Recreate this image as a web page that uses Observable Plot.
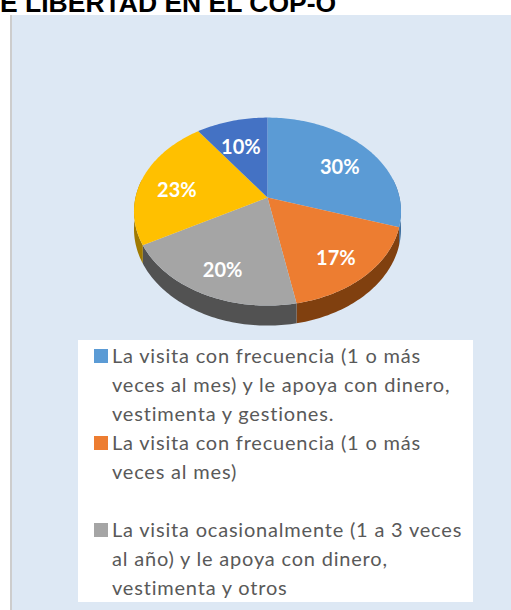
<!DOCTYPE html>
<html><head><meta charset="utf-8">
<script src="https://cdn.jsdelivr.net/npm/d3@7"></script>
<script src="https://cdn.jsdelivr.net/npm/@observablehq/plot@0.6"></script>
<style>
html,body{margin:0;padding:0;width:511px;height:610px;overflow:hidden;background:#fff;}
#panel{position:absolute;left:10px;top:15px;width:530px;height:620px;background:#DDE8F4;border-left:2px solid #CDCDCD;}
#chart{position:absolute;left:0;top:0;}
#title{position:absolute;left:0;top:-10px;font:bold 26.5px "Liberation Sans",Arial,sans-serif;line-height:26px;color:#000;white-space:nowrap;z-index:3;}
#legend{position:absolute;left:78px;top:340px;width:395px;height:262px;background:#fff;font:20px Lato,sans-serif;letter-spacing:0.8px;color:#595959;line-height:29px;box-sizing:border-box;padding-top:1px;z-index:2;}
.item{position:relative;padding-left:34px;white-space:nowrap;}
.sw{position:absolute;left:16px;top:8px;width:14px;height:14px;}
</style>
</head><body>
<div id="panel"></div>
<div id="chart"></div>
<div id="title"></div>
<div id="legend"></div>
<script>
const titleText = "E LIBERTAD EN EL COP-O";
const categories = [
  "La visita con frecuencia (1 o más veces al mes) y le apoya con dinero, vestimenta y gestiones.",
  "La visita con frecuencia (1 o más veces al mes)",
  "La visita ocasionalmente (1 a 3 veces al año) y le apoya con dinero, vestimenta y otros",
  "Otro (amarillo)",
  "Otro (azul oscuro)"
];
const values = [30, 17, 20, 23, 10];
const valueLabels = ["30%", "17%", "20%", "23%", "10%"];
const legendLines = [
  ["La visita con frecuencia (1 o más", "veces al mes) y le apoya con dinero,", "vestimenta y gestiones."],
  ["La visita con frecuencia (1 o más", "veces al mes)", "\u00a0"],
  ["La visita ocasionalmente (1 a 3 veces", "al año) y le apoya con dinero,", "vestimenta y otros"]
];
const topColors = ["#5B9BD5", "#ED7D31", "#A5A5A5", "#FFC000", "#4472C4"];
const sideColors = ["#3D6E9E", "#80400F", "#525252", "#A07A00", "#2E4F8C"];

// 3D pie projection (unit = pie radius)
const K = 0.15, T = 91.9 / 132, D = 17 / 132;
function proj(a, r, drop) {
  const u = r * Math.sin(a), v = r * Math.cos(a);
  const s = 1 / (1 + K * v);
  return {x: u * s, y: v * s * T - (drop || 0) * s};
}
const rows = categories.map((c, i) => ({cat: c, value: values[i], label: valueLabels[i]}));
const slices = d3.pie().sort(null).value(d => d.value)(rows);

function arc(a0, a1, r, drop) {
  const n = Math.max(2, Math.ceil((a1 - a0) / 0.02));
  return d3.range(n + 1).map(k => proj(a0 + (a1 - a0) * k / n, r, drop));
}

const tops = slices.flatMap(s => [proj(0, 0), ...arc(s.startAngle, s.endAngle, 1)].map(p => ({...p, cat: s.data.cat})));
const sideMarks = slices.map((s, i) => {
  const a0 = Math.max(s.startAngle, Math.PI / 2 - 0.2), a1 = Math.min(s.endAngle, 3 * Math.PI / 2 + 0.2);
  if (a1 <= a0) return null;
  const pts = [...arc(a0, a1, 1, 0), ...arc(a0, a1, 1, D).reverse()];
  return Plot.line(pts, {x: "x", y: "y", fill: sideColors[i], stroke: "none", curve: "linear-closed"});
}).filter(Boolean);
const shadow = arc(0, 2 * Math.PI, 1.03, D + 0.03);
const labelPts = slices.map(s => {
  const m = (s.startAngle + s.endAngle) / 2;
  return {...proj(m, 0.72), label: s.data.label};
});

const W = 511, H = 340, cx = 267, cy = 197, R = 132;
const plot = Plot.plot({
  width: W, height: H, margin: 0,
  style: "background: transparent; overflow: visible;",
  x: {axis: null, domain: [-cx / R, (W - cx) / R]},
  y: {axis: null, domain: [(cy - H) / R, cy / R]},
  color: {domain: categories, range: topColors},
  marks: [
    Plot.line(shadow, {x: "x", y: "y", fill: "#6f819a", fillOpacity: 0.55, stroke: "none", curve: "linear-closed", ariaLabel: "shadow"}),
    ...sideMarks,
    Plot.line(tops, {x: "x", y: "y", z: "cat", fill: "cat", stroke: "none", curve: "linear-closed"}),
    Plot.text(labelPts, {x: "x", y: "y", text: "label", fill: "white", fontWeight: "bold", fontSize: 20, fontFamily: "Lato, sans-serif", dy: 7})
  ]
});
// soft blur for the shadow
const ns = "http://www.w3.org/2000/svg";
const defs = document.createElementNS(ns, "defs");
defs.innerHTML = '<filter id="soft" x="-20%" y="-20%" width="140%" height="140%"><feGaussianBlur stdDeviation="4"/></filter>';
plot.insertBefore(defs, plot.firstChild);
const sh = plot.querySelector('[aria-label="shadow"]');
if (sh) sh.setAttribute("filter", "url(#soft)");
document.getElementById("chart").appendChild(plot);

document.getElementById("title").textContent = titleText;
const legend = document.getElementById("legend");
legendLines.forEach((lines, i) => {
  const item = document.createElement("div");
  item.className = "item";
  const sw = document.createElement("span");
  sw.className = "sw";
  sw.style.background = topColors[i];
  item.appendChild(sw);
  lines.forEach(l => { const d = document.createElement("div"); d.textContent = l; item.appendChild(d); });
  legend.appendChild(item);
});
</script>
</body></html>
